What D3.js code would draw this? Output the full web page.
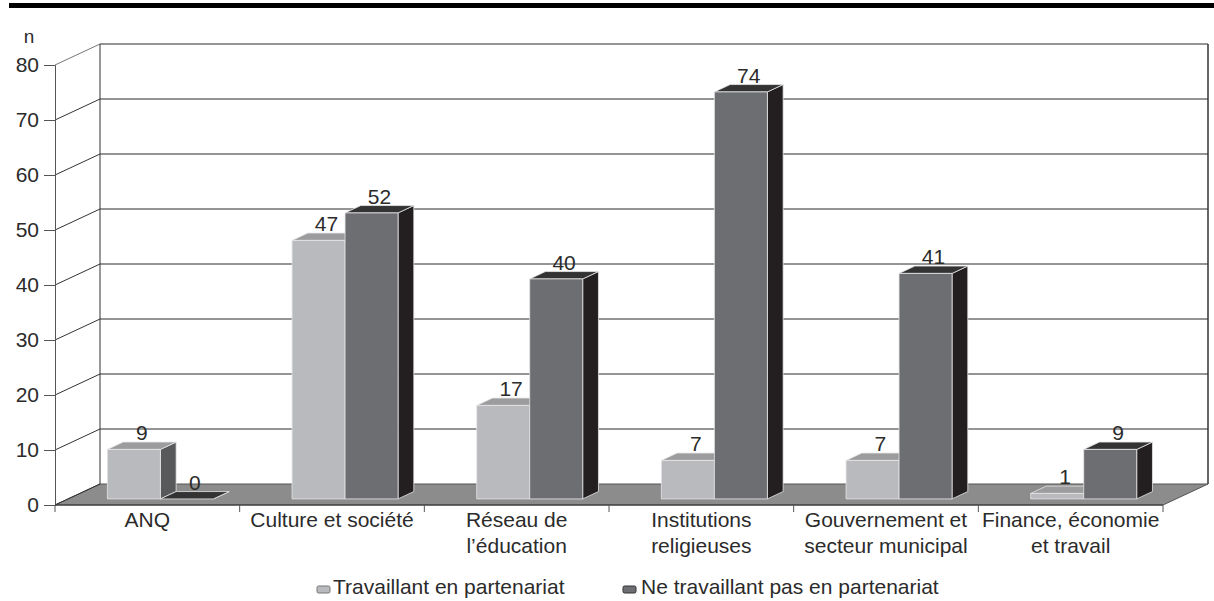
<!DOCTYPE html>
<html>
<head>
<meta charset="utf-8">
<script src="https://cdn.jsdelivr.net/npm/d3@7"></script>
<style>
  body { margin: 0; background: #fff; }
  svg text { font-family: "Liberation Sans", Arial, Helvetica, sans-serif; fill: #2b2b2b; }
</style>
</head>
<body>
<svg id="chart" width="1214" height="601"></svg>
<script>
// categories (multi-line labels)
var categories = [
  ['ANQ'],
  ['Culture et société'],
  ['Réseau de', 'l’éducation'],
  ['Institutions', 'religieuses'],
  ['Gouvernement et', 'secteur municipal'],
  ['Finance, économie', 'et travail']
];
var partenariat = [9, 47, 17, 7, 7, 1];
var sansPartenariat = [0, 52, 40, 74, 41, 9];
var yTicks = [0, 10, 20, 30, 40, 50, 60, 70, 80];
var seriesNames = ['Travaillant en partenariat', 'Ne travaillant pas en partenariat'];

/*** geometry ***/
var frontLeft = 55, frontRight = 1163, frontBottom = 505, frontTop = 65;
var depthX = 45, depthY = 21;      // floor depth offset
var barZ0 = 0.29, barZ1 = 0.64;    // bar front/back as fraction of depth
var barW = 53;

var svg = d3.select('#chart');

var x = d3.scaleBand()
  .domain(d3.range(categories.length))
  .range([frontLeft, frontRight]);

var y = d3.scaleLinear()
  .domain([0, 80])
  .range([frontBottom, frontTop]);

var inner = d3.scaleBand()
  .domain([0, 1])
  .range([-barW, barW]);

//project a point (screen x on front plane, value, depth fraction)
function proj(px, v, z) {
  return [px + z * depthX, y(v) - z * depthY];
}

//top rule
svg.append('rect')
  .attr('x', 9).attr('y', 3)
  .attr('width', 1205).attr('height', 5)
  .attr('fill', '#000');

/*** back wall + floor ***/
var backL = frontLeft + depthX, backR = frontRight + depthX;

svg.append('polygon')
  .attr('points', [[frontLeft, frontBottom], [backL, frontBottom - depthY], [backR, frontBottom - depthY], [frontRight, frontBottom]].join(' '))
  .attr('fill', '#8c8c8c')
  .attr('stroke', '#555')
  .attr('stroke-width', 1);

//gridlines on back wall and diagonals on side
yTicks.forEach(function(t) {
  if (t > 0) {
    svg.append('line')
      .attr('x1', backL).attr('x2', backR)
      .attr('y1', y(t) - depthY).attr('y2', y(t) - depthY)
      .attr('stroke', '#2a2a2a').attr('stroke-width', 1);
  }
  svg.append('line')
    .attr('x1', frontLeft).attr('y1', y(t))
    .attr('x2', backL).attr('y2', y(t) - depthY)
    .attr('stroke', t == 80 ? '#777' : '#333').attr('stroke-width', 1);
});

//wall verticals
svg.append('line')
  .attr('x1', backL).attr('x2', backL)
  .attr('y1', y(80) - depthY).attr('y2', y(0) - depthY)
  .attr('stroke', '#333');
svg.append('line')
  .attr('x1', backR).attr('x2', backR)
  .attr('y1', y(80) - depthY).attr('y2', y(0) - depthY)
  .attr('stroke', '#333').attr('stroke-width', 1.5);

/*** y axis ***/
var yAxis = d3.axisLeft(y)
  .tickValues(yTicks)
  .tickSize(11)
  .tickPadding(5);

var gy = svg.append('g')
  .attr('transform', 'translate(' + frontLeft + ',0)')
  .call(yAxis);
gy.select('.domain').attr('stroke', '#555');
gy.selectAll('.tick line').attr('stroke', '#555');
gy.selectAll('.tick text')
  .attr('font-size', 21)
  .attr('fill', '#2b2b2b')
  .style('font-family', '"Liberation Sans", Arial, Helvetica, sans-serif');

svg.append('text')
  .attr('x', 29).attr('y', 43)
  .attr('text-anchor', 'middle')
  .attr('font-size', 19)
  .text('n');

/*** x axis ***/
svg.append('line')
  .attr('x1', frontLeft).attr('x2', frontRight)
  .attr('y1', frontBottom).attr('y2', frontBottom)
  .attr('stroke', '#333').attr('stroke-width', 1.2);

var xBounds = d3.range(categories.length + 1).map(function(i) {
  return i < categories.length ? x(i) : x(i - 1) + x.bandwidth();
});
svg.selectAll('.xtick')
  .data(xBounds)
  .enter().append('line')
  .attr('class', 'xtick')
  .attr('x1', function(d) { return d; })
  .attr('x2', function(d) { return d; })
  .attr('y1', frontBottom)
  .attr('y2', frontBottom + 7)
  .attr('stroke', '#555');

var xLabels = svg.selectAll('.xlabel')
  .data(categories)
  .enter().append('text')
  .attr('class', 'xlabel')
  .attr('text-anchor', 'middle')
  .attr('font-size', 21)
  .attr('y', 527);
xLabels.selectAll('tspan')
  .data(function(d, i) { return d.map(function(line) { return { line: line, i: i }; }); })
  .enter().append('tspan')
  .attr('x', function(d) { return x(d.i) + x.bandwidth() / 2; })
  .attr('dy', function(d, j) { return j == 0 ? 0 : 26; })
  .text(function(d) { return d.line; });

/*** bars ***/
var palette = [
  { front: '#b9babd', top: '#9c9c9e', side: '#58595b' },
  { front: '#6d6e71', top: '#333334', side: '#231f20' }
];

var bars = [];
categories.forEach(function(c, i) {
  [partenariat[i], sansPartenariat[i]].forEach(function(v, s) {
    bars.push({ cat: i, s: s, v: v });
  });
});

function poly(pts) { return pts.map(function(p) { return p.join(','); }).join(' '); }

var gBars = svg.append('g').attr('class', 'bars');
bars.forEach(function(b) {
  var cx = x(b.cat) + x.bandwidth() / 2;
  var x0 = cx + inner(b.s), x1 = x0 + inner.bandwidth();
  var col = palette[b.s];
  var g = gBars.append('g');

  //side
  g.append('polygon')
    .attr('points', poly([proj(x1, 0, barZ0), proj(x1, b.v, barZ0), proj(x1, b.v, barZ1), proj(x1, 0, barZ1)]))
    .attr('fill', col.side).attr('stroke', '#e6e6e6').attr('stroke-width', 0.8);
  //top
  g.append('polygon')
    .attr('points', poly([proj(x0, b.v, barZ0), proj(x1, b.v, barZ0), proj(x1, b.v, barZ1), proj(x0, b.v, barZ1)]))
    .attr('fill', b.v == 0 ? '#333334' : col.top).attr('stroke', '#e6e6e6').attr('stroke-width', 0.8);
  //front
  if (b.v > 0) {
    g.append('polygon')
      .attr('points', poly([proj(x0, 0, barZ0), proj(x1, 0, barZ0), proj(x1, b.v, barZ0), proj(x0, b.v, barZ0)]))
      .attr('fill', col.front).attr('stroke', '#e6e6e6').attr('stroke-width', 0.8);
  }
});

//value labels
bars.forEach(function(b) {
  var cx = x(b.cat) + x.bandwidth() / 2;
  var mid = cx + inner(b.s) + inner.bandwidth() / 2;
  var p = proj(mid, b.v, (barZ0 + barZ1) / 2);
  svg.append('text')
    .attr('x', p[0])
    .attr('y', proj(mid, b.v, barZ1)[1] - 2)
    .attr('text-anchor', 'middle')
    .attr('font-size', 21)
    .text(b.v);
});

/*** legend ***/
var legendSq = [317, 623], legendTx = [333, 641];
var legend = svg.selectAll('.legend-item')
  .data(seriesNames)
  .enter().append('g')
  .attr('class', 'legend-item');
legend.append('rect')
  .attr('x', function(d, i) { return legendSq[i]; })
  .attr('y', 586)
  .attr('width', 13).attr('height', 7)
  .attr('rx', 1.5)
  .attr('fill', function(d, i) { return palette[i].front; })
  .attr('stroke', function(d, i) { return i == 0 ? '#777' : '#333'; })
  .attr('stroke-width', 1);
legend.append('text')
  .attr('x', function(d, i) { return legendTx[i]; })
  .attr('y', 594)
  .attr('font-size', 21)
  .text(function(d) { return d; });
</script>
</body>
</html>
